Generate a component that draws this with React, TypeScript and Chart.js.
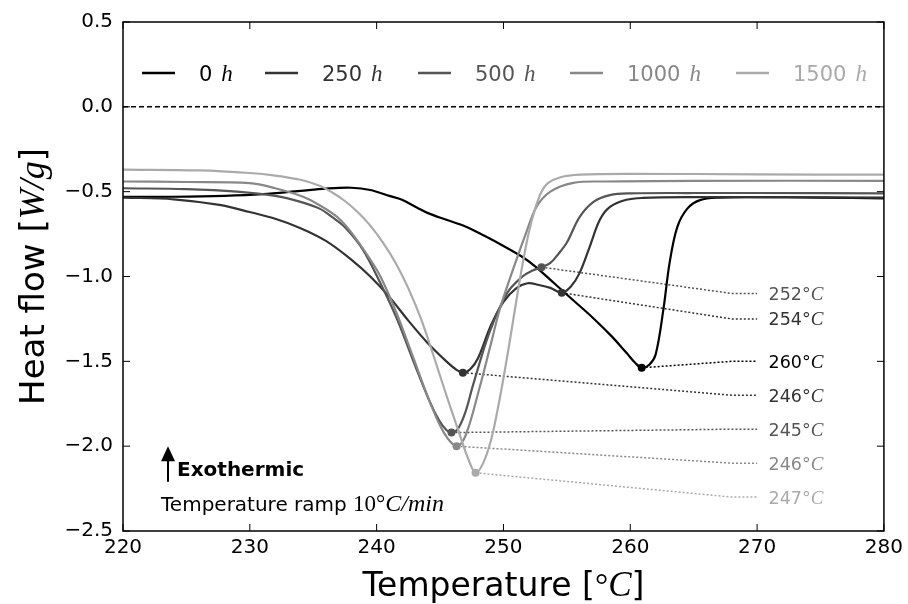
import React, { useEffect, useRef } from "react";
import { Chart, registerables } from "chart.js";

Chart.register(...registerables);

// ---- data ----
const seriesNames = ["0", "250", "500", "1000", "1500"];

const temp0h = [220, 224, 228, 231, 234, 236, 238, 239.5, 241, 242, 243.2, 244, 245.5, 247, 248.5, 250, 251.5, 252.5, 254, 255.5, 257, 258.5, 259.7, 260.4, 260.9, 261.5, 262, 262.6, 263.1, 263.7, 264.5, 265.5, 267, 270, 275, 280];
const flow0h = [-0.53, -0.53, -0.525, -0.515, -0.495, -0.482, -0.477, -0.49, -0.525, -0.548, -0.595, -0.625, -0.666, -0.705, -0.76, -0.82, -0.885, -0.94, -1.04, -1.14, -1.24, -1.35, -1.45, -1.51, -1.538, -1.52, -1.46, -1.2, -0.92, -0.71, -0.6, -0.55, -0.535, -0.532, -0.535, -0.54];

const temp250h = [220, 224, 227.6, 230, 232, 234, 236, 238, 239.5, 241, 242.5, 244, 245.5, 246.3, 246.8, 247.4, 248, 249, 250, 251, 251.9, 252.8, 253.7, 254.6, 255.3, 256, 256.8, 257.6, 258.4, 259.7, 261, 265, 270, 280];
const flow250h = [-0.535, -0.545, -0.578, -0.62, -0.66, -0.715, -0.79, -0.9, -1.0, -1.12, -1.26, -1.39, -1.5, -1.55, -1.567, -1.545, -1.48, -1.29, -1.15, -1.07, -1.04, -1.05, -1.067, -1.096, -1.06, -0.98, -0.825, -0.666, -0.59, -0.548, -0.537, -0.532, -0.532, -0.535];

const temp500h = [220, 225, 229, 232, 234, 235.5, 236.5, 237.5, 238.9, 240.3, 241.6, 242.9, 244.2, 244.9, 245.5, 245.9, 246.4, 247, 247.6, 248.9, 250.3, 251.5, 252.3, 253, 253.7, 254.3, 255, 256, 257.1, 258.4, 260, 265, 270, 280];
const flow500h = [-0.48, -0.485, -0.5, -0.525, -0.56, -0.6, -0.65, -0.71, -0.84, -1.04, -1.25, -1.5, -1.74, -1.845, -1.905, -1.92, -1.9, -1.8, -1.64, -1.33, -1.096, -1.0, -0.965, -0.945, -0.92, -0.87, -0.8, -0.65, -0.56, -0.52, -0.51, -0.508, -0.508, -0.51];

const temp1000h = [220, 225, 230, 232, 234.2, 235.5, 236.9, 238, 239.5, 240.3, 241.6, 242.9, 244.2, 245.3, 246.3, 247, 248.1, 249, 249.7, 250.75, 251.8, 252.6, 253.7, 255.5, 258, 265, 280];
const flow1000h = [-0.44, -0.443, -0.45, -0.48, -0.53, -0.58, -0.65, -0.74, -0.9, -1.0, -1.22, -1.48, -1.74, -1.92, -2.0, -1.94, -1.66, -1.4, -1.196, -0.96, -0.74, -0.59, -0.5, -0.448, -0.44, -0.436, -0.436];

const temp1500h = [220, 226, 230, 232, 234, 235.5, 236.5, 237.5, 238.5, 239.5, 240.5, 241.5, 242.5, 243.5, 244.5, 245.5, 246.5, 247.2, 247.8, 248.4, 249, 249.5, 250, 250.5, 251, 251.5, 252, 252.5, 253, 253.5, 254.5, 256, 260, 270, 280];
const flow1500h = [-0.37, -0.375, -0.39, -0.405, -0.43, -0.465, -0.505, -0.555, -0.62, -0.7, -0.8, -0.92, -1.07, -1.25, -1.47, -1.7, -1.92, -2.07, -2.157, -2.1, -1.97, -1.8, -1.6, -1.38, -1.15, -0.93, -0.74, -0.6, -0.5, -0.45, -0.415, -0.4, -0.395, -0.398, -0.4];

const peakTemps = [253.0, 254.6, 260.9, 246.8, 245.9, 246.3, 247.8];
const peakFlows = [-0.945, -1.096, -1.538, -1.567, -1.92, -2.0, -2.157];
const peakLabels = ["252", "254", "260", "246", "245", "246", "247"];
const labelFlows = [-1.1, -1.25, -1.5, -1.7, -1.9, -2.1, -2.3];
const peakSeries = [2, 1, 0, 1, 2, 3, 4];

const xTickStep = 10;
const yTickStep = 0.5;

// ---- styles ----
const colors = ["#000000", "#333333", "#555555", "#888888", "#aaaaaa"];
const SANS = "'DejaVu Sans', sans-serif";
const MATH = "'Liberation Serif', 'DejaVu Serif', serif";

type Seg = { t: string; f: string };

function rich(ctx: CanvasRenderingContext2D, segs: Seg[], x: number, y: number, align: string, color: string) {
  let w = 0;
  segs.forEach((s) => {
    ctx.font = s.f;
    w += ctx.measureText(s.t).width;
  });
  let cx = align === "left" ? x : align === "center" ? x - w / 2 : x - w;
  ctx.textAlign = "left";
  ctx.textBaseline = "alphabetic";
  ctx.fillStyle = color;
  segs.forEach((s) => {
    ctx.font = s.f;
    ctx.fillText(s.t, cx, y);
    cx += ctx.measureText(s.t).width;
  });
}

const overlay = {
  id: "overlay",
  afterDraw(chart: any) {
    const ctx: CanvasRenderingContext2D = chart.ctx;
    const a = chart.chartArea;
    const xs = chart.scales.x;
    const ys = chart.scales.y;
    ctx.save();
    // frame
    ctx.strokeStyle = "#000";
    ctx.lineWidth = 1.5;
    ctx.strokeRect(a.left, a.top, a.right - a.left, a.bottom - a.top);
    // inward ticks
    ctx.lineWidth = 1;
    const tl = 7;
    const seg = (x1: number, y1: number, x2: number, y2: number) => {
      ctx.beginPath();
      ctx.moveTo(x1, y1);
      ctx.lineTo(x2, y2);
      ctx.stroke();
    };
    xs.ticks.forEach((t: any) => {
      const px = xs.getPixelForValue(t.value);
      seg(px, a.bottom, px, a.bottom - tl);
      seg(px, a.top, px, a.top + tl);
    });
    ys.ticks.forEach((t: any) => {
      const py = ys.getPixelForValue(t.value);
      seg(a.left, py, a.left + tl, py);
      seg(a.right, py, a.right - tl, py);
    });

    // legend
    const legX = [142, 265, 418, 570, 736];
    const legY = a.top + 51;
    seriesNames.forEach((n, i) => {
      ctx.strokeStyle = colors[i];
      ctx.lineWidth = 2.5;
      seg(legX[i], legY, legX[i] + 33, legY);
      ctx.font = `21px ${SANS}`;
      const tx = legX[i] + 57;
      rich(ctx, [{ t: n, f: `21px ${SANS}` }], tx, legY + 8, "left", colors[i]);
      const w = ctx.measureText(n).width;
      rich(ctx, [{ t: "h", f: `italic 23px ${MATH}` }], tx + w + 9, legY + 8, "left", colors[i]);
    });

    // peak labels
    peakLabels.forEach((lab, i) => {
      const px = xs.getPixelForValue(270.9);
      const py = ys.getPixelForValue(labelFlows[i]);
      rich(ctx, [
        { t: lab + "°", f: `17.5px ${SANS}` },
        { t: "C", f: `italic 19px ${MATH}` },
      ], px, py + 6.5, "left", colors[peakSeries[i]]);
    });

    // exothermic arrow
    const ax = xs.getPixelForValue(223.55);
    const ay0 = ys.getPixelForValue(-2.21);
    const ay1 = ys.getPixelForValue(-2.0);
    ctx.strokeStyle = "#000";
    ctx.fillStyle = "#000";
    ctx.lineWidth = 2;
    seg(ax, ay0, ax, ay1 + 12);
    ctx.beginPath();
    ctx.moveTo(ax, ay1);
    ctx.lineTo(ax - 7, ay1 + 15);
    ctx.lineTo(ax + 7, ay1 + 15);
    ctx.closePath();
    ctx.fill();
    rich(ctx, [{ t: "Exothermic", f: `bold 20px ${SANS}` }], ax + 9, ay0 - 6, "left", "#000");
    rich(ctx, [
      { t: "Temperature ramp ", f: `20px ${SANS}` },
      { t: "10°", f: `23px ${MATH}` },
      { t: "C/min", f: `italic 24px ${MATH}` },
    ], ax - 7, ay0 + 29, "left", "#000");

    // axis titles
    const cxm = (a.left + a.right) / 2;
    rich(ctx, [
      { t: "Temperature [", f: `33px ${SANS}` },
      { t: "°", f: `33px ${MATH}` },
      { t: "C", f: `italic 35px ${MATH}` },
      { t: "]", f: `33px ${SANS}` },
    ], cxm, 596, "center", "#000");
    ctx.save();
    ctx.translate(44, (a.top + a.bottom) / 2);
    ctx.rotate(-Math.PI / 2);
    rich(ctx, [
      { t: "Heat flow [", f: `34px ${SANS}` },
      { t: "W/g", f: `italic 36px ${MATH}` },
      { t: "]", f: `34px ${SANS}` },
    ], 0, 0, "center", "#000");
    ctx.restore();
    ctx.restore();
  },
};

export default function App() {
  const ref = useRef<HTMLCanvasElement | null>(null);
  useEffect(() => {
    if (!ref.current) return;
    const curves = [
      [temp0h, flow0h],
      [temp250h, flow250h],
      [temp500h, flow500h],
      [temp1000h, flow1000h],
      [temp1500h, flow1500h],
    ];
    const datasets: any[] = [];
    datasets.push({
      data: [{ x: 220, y: 0 }, { x: 280, y: 0 }],
      borderColor: "#000",
      borderWidth: 1.5,
      borderDash: [5, 3],
      pointRadius: 0,
      order: 30,
    });
    curves.forEach(([ts, fs], i) => {
      datasets.push({
        data: ts.map((t, k) => ({ x: t, y: fs[k] })),
        borderColor: colors[i],
        borderWidth: 2.2,
        pointRadius: 0,
        tension: 0.35,
        order: 10 - i,
      });
    });
    peakTemps.forEach((t, i) => {
      datasets.push({
        data: [
          { x: t, y: peakFlows[i] },
          { x: 268, y: labelFlows[i] },
          { x: 270, y: labelFlows[i] },
        ],
        borderColor: colors[peakSeries[i]],
        borderWidth: 1.5,
        borderDash: [2, 2],
        pointRadius: 0,
        tension: 0,
        order: 20,
      });
    });
    datasets.push({
      data: peakTemps.map((t, i) => ({ x: t, y: peakFlows[i] })),
      showLine: false,
      pointRadius: 4,
      pointBorderWidth: 0,
      pointBackgroundColor: peakSeries.map((s) => colors[s]),
      order: 1,
    });

    const chart = new Chart(ref.current, {
      type: "line",
      data: { datasets },
      options: {
        animation: false,
        responsive: false,
        layout: { padding: { left: 0, right: 24, top: 22, bottom: 0 } },
        plugins: { legend: { display: false }, tooltip: { enabled: false }, title: { display: false } },
        scales: {
          x: {
            type: "linear",
            min: 220,
            max: 280,
            grid: { display: false, drawTicks: false },
            border: { display: false },
            ticks: { stepSize: xTickStep, color: "#000", font: { family: "DejaVu Sans", size: 20 }, padding: 5, maxRotation: 0, autoSkip: false },
            afterFit: (s: any) => { s.height = 73; },
          },
          y: {
            type: "linear",
            min: -2.5,
            max: 0.5,
            grid: { display: false, drawTicks: false },
            border: { display: false },
            ticks: {
              stepSize: yTickStep,
              color: "#000",
              font: { family: "DejaVu Sans", size: 20 },
              padding: 10,
              callback: (v: any) => (v < 0 ? "\u2212" : "") + Math.abs(Number(v)).toFixed(1),
            },
            afterFit: (s: any) => { s.width = 123; },
          },
        },
      } as any,
      plugins: [overlay],
    });
    return () => chart.destroy();
  }, []);
  return (
    <div style={{ position: "fixed", left: 0, top: 0, width: 908, height: 604, background: "#fff" }}>
      <canvas ref={ref} width={908} height={604} style={{ display: "block" }} />
    </div>
  );
}
